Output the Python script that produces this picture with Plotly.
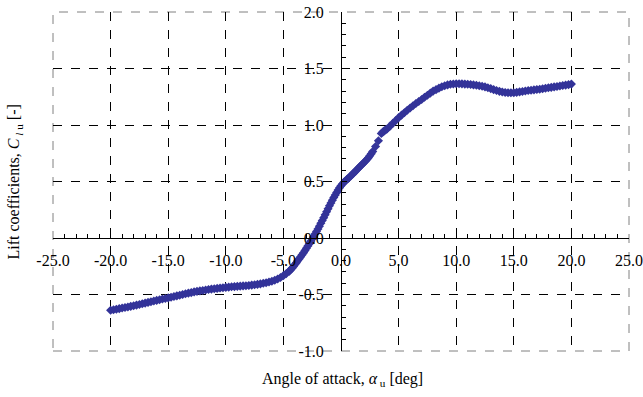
import plotly.graph_objects as go

alpha_deg = [
    -20.0, -19.75, -19.5, -19.25, -19.0, -18.75, -18.5, -18.25, -18.0, -17.75,
    -17.5, -17.25, -17.0, -16.75, -16.5, -16.25, -16.0, -15.75, -15.5, -15.25,
    -15.0, -14.75, -14.5, -14.25, -14.0, -13.75, -13.5, -13.25, -13.0, -12.75,
    -12.5, -12.25, -12.0, -11.75, -11.5, -11.25, -11.0, -10.75, -10.5, -10.25,
    -10.0, -9.75, -9.5, -9.25, -9.0, -8.75, -8.5, -8.25, -8.0, -7.75,
    -7.5, -7.25, -7.0, -6.75, -6.5, -6.25, -6.0, -5.75, -5.5, -5.25,
    -5.0, -4.75, -4.5, -4.375, -4.25, -4.125, -4.0, -3.875, -3.75, -3.625,
    -3.5, -3.375, -3.25, -3.125, -3.0, -2.875, -2.75, -2.625, -2.5, -2.375,
    -2.25, -2.125, -2.0, -1.875, -1.75, -1.625, -1.5, -1.375, -1.25, -1.125,
    -1.0, -0.875, -0.75, -0.625, -0.5, -0.375, -0.25, -0.125, 0.0, 0.125,
    0.25, 0.375, 0.5, 0.625, 0.75, 0.875, 1.0, 1.125, 1.25, 1.375,
    1.5, 1.625, 1.75, 1.875, 2.0, 2.125, 2.25, 2.375, 2.5, 2.625,
    2.75, 3.0, 3.25, 3.5, 3.625, 3.75, 3.875, 4.0, 4.25, 4.5, 4.75,
    5.0, 5.25, 5.5, 5.75, 6.0, 6.25, 6.5, 6.75, 7.0, 7.25,
    7.5, 7.75, 8.0, 8.25, 8.5, 8.75, 9.0, 9.25, 9.5, 9.75,
    10.0, 10.25, 10.5, 10.75, 11.0, 11.25, 11.5, 11.75, 12.0, 12.25,
    12.5, 12.75, 13.0, 13.25, 13.5, 13.75, 14.0, 14.25, 14.5, 14.75,
    15.0, 15.25, 15.5, 15.75, 16.0, 16.25, 16.5, 16.75, 17.0, 17.25,
    17.5, 17.75, 18.0, 18.25, 18.5, 18.75, 19.0, 19.25, 19.5, 19.75,
    20.0,
]

cl_u = [
    -0.640, -0.635, -0.630, -0.625, -0.620, -0.615, -0.610, -0.605, -0.600, -0.594,
    -0.588, -0.582, -0.576, -0.570, -0.564, -0.558, -0.552, -0.546, -0.540, -0.535,
    -0.530, -0.524, -0.518, -0.512, -0.506, -0.500, -0.494, -0.488, -0.483, -0.477,
    -0.472, -0.468, -0.464, -0.460, -0.456, -0.452, -0.449, -0.446, -0.443, -0.440,
    -0.437, -0.435, -0.432, -0.430, -0.428, -0.426, -0.424, -0.422, -0.420, -0.417,
    -0.414, -0.410, -0.406, -0.401, -0.396, -0.390, -0.383, -0.374, -0.363, -0.349,
    -0.333, -0.315, -0.295, -0.282, -0.268, -0.252, -0.235, -0.218, -0.200, -0.183,
    -0.165, -0.148, -0.130, -0.110, -0.090, -0.070, -0.050, -0.029, -0.008, 0.013,
    0.035, 0.057, 0.080, 0.105, 0.130, 0.155, 0.180, 0.206, 0.232, 0.258,
    0.285, 0.310, 0.335, 0.358, 0.380, 0.403, 0.425, 0.445, 0.463, 0.478,
    0.493, 0.505, 0.517, 0.528, 0.540, 0.552, 0.565, 0.577, 0.590, 0.603,
    0.617, 0.630, 0.643, 0.655, 0.668, 0.681, 0.695, 0.710, 0.727, 0.745,
    0.765, 0.810, 0.860, 0.925, 0.937, 0.948, 0.957, 0.965, 0.990, 1.015, 1.040,
    1.065, 1.087, 1.108, 1.130, 1.150, 1.170, 1.190, 1.208, 1.226, 1.245,
    1.263, 1.282, 1.300, 1.313, 1.326, 1.338, 1.348, 1.355, 1.360, 1.363,
    1.365, 1.365, 1.364, 1.362, 1.360, 1.358, 1.355, 1.352, 1.348, 1.343,
    1.337, 1.330, 1.322, 1.313, 1.305, 1.298, 1.292, 1.288, 1.286, 1.285,
    1.286, 1.289, 1.293, 1.297, 1.301, 1.305, 1.308, 1.311, 1.314, 1.317,
    1.321, 1.325, 1.329, 1.333, 1.337, 1.341, 1.345, 1.349, 1.353, 1.357,
    1.362,
]

x_ticks = [-25, -20, -15, -10, -5, 0, 5, 10, 15, 20, 25]
x_tick_text = ["-25.0", "-20.0", "-15.0", "-10.0", "-5.0", "0.0", "5.0", "10.0", "15.0", "20.0", "25.0"]
y_ticks = [-1.0, -0.5, 0.0, 0.5, 1.0, 1.5, 2.0]
y_tick_text = ["-1.0", "-0.5", "0.0", "0.5", "1.0", "1.5", "2.0"]
x_grid = [-20, -15, -10, -5, 5, 10, 15, 20]
y_grid = [-0.5, 0.5, 1.0, 1.5]

FONT = "Liberation Serif"
MARK = "#333399"

fig = go.Figure()
fig.add_trace(go.Scatter(x=[None], y=[None], xaxis="x", yaxis="y", showlegend=False, hoverinfo="skip"))
fig.add_trace(go.Scatter(
    x=alpha_deg, y=cl_u, xaxis="x2", yaxis="y2", mode="markers",
    marker=dict(symbol="diamond", size=7, color=MARK, line=dict(width=0)),
    showlegend=False,
))

fig.update_layout(
    width=643, height=397,
    margin=dict(l=53, r=14, t=12, b=46, autoexpand=False),
    paper_bgcolor="white", plot_bgcolor="white",
    font=dict(family=FONT, size=16, color="black"),
    xaxis=dict(range=[-25, 25], tickmode="array", tickvals=x_grid, showticklabels=False,
               ticks="", showgrid=True, gridcolor="black", griddash="dash", gridwidth=1,
               zeroline=False, showline=False, fixedrange=True, automargin=False),
    yaxis=dict(range=[-1, 2], tickmode="array", tickvals=y_grid, showticklabels=False,
               ticks="", showgrid=True, gridcolor="black", griddash="dash", gridwidth=1,
               zeroline=False, showline=False, fixedrange=True, automargin=False),
    xaxis2=dict(overlaying="x", anchor="free", position=1/3, side="bottom",
                range=[-25, 25], tickmode="array", tickvals=x_ticks, ticktext=x_tick_text,
                showline=True, linecolor="black", linewidth=1,
                ticks="inside", ticklen=5, tickcolor="black", tickwidth=1,
                minor=dict(tickmode="linear", tick0=0, dtick=1, ticks="inside", ticklen=4,
                           tickcolor="black", showgrid=False),
                showgrid=False, zeroline=False, ticklabelstandoff=8, automargin=False,
                tickfont=dict(family=FONT, size=16, color="black")),
    yaxis2=dict(overlaying="y", anchor="free", position=0.5, side="left",
                range=[-1, 2], tickmode="array", tickvals=y_ticks, ticktext=y_tick_text,
                showline=True, linecolor="black", linewidth=1,
                ticks="inside", ticklen=5, tickcolor="black", tickwidth=1,
                minor=dict(tickmode="linear", tick0=0, dtick=0.1, ticks="inside", ticklen=4,
                           tickcolor="black", showgrid=False),
                showgrid=False, zeroline=False, ticklabelstandoff=14, automargin=False,
                tickfont=dict(family=FONT, size=16, color="black")),
    shapes=[dict(type="rect", xref="paper", yref="paper", x0=0, y0=0, x1=1, y1=1,
                 line=dict(color="#808080", width=1, dash="dash"), layer="below")],
    annotations=[
        dict(text="Angle of attack, <i>α</i><sub> u</sub> [deg]", xref="paper", yref="paper",
             x=0.502, y=-0.0855, xanchor="center", yanchor="middle", showarrow=False,
             font=dict(family=FONT, size=16)),
        dict(text="Lift coefficients, <i>C</i><sub><i> l</i> u</sub> [-]", xref="paper", yref="paper",
             x=-0.066, y=0.5, xanchor="center", yanchor="middle", textangle=-90, showarrow=False,
             font=dict(family=FONT, size=16)),
    ],
)

fig.write_html("out.html")
